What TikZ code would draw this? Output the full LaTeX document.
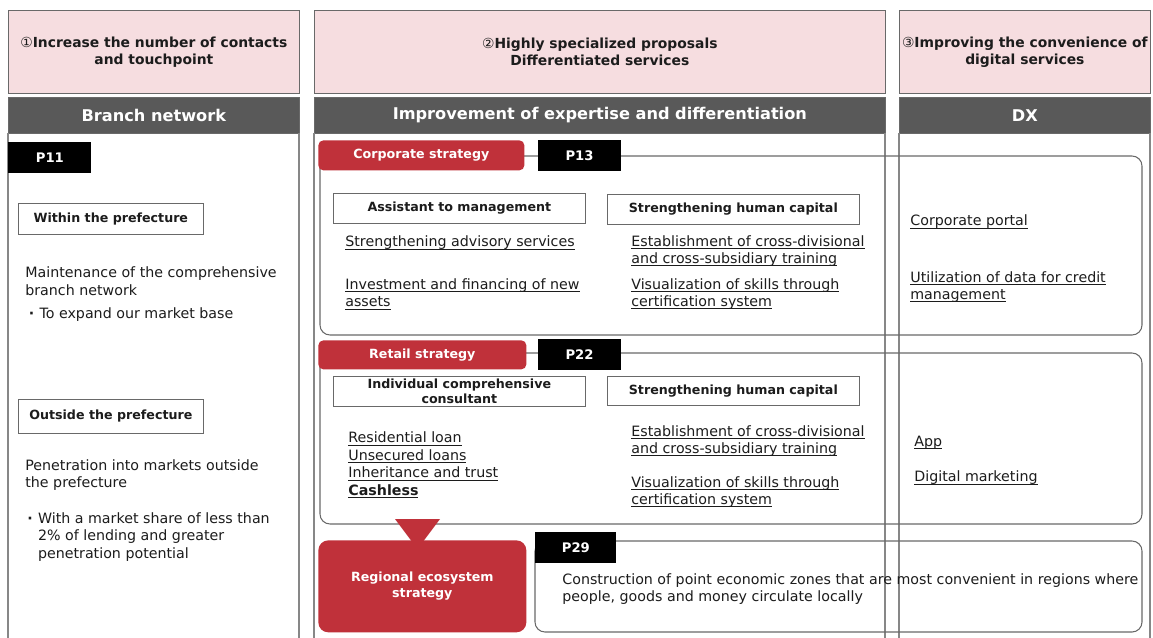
\documentclass[tikz,border=0pt]{standalone}
\usepackage{fontspec}
\setmainfont{DejaVu Sans}
\usepackage{tikz}
\usetikzlibrary{positioning,calc}
\definecolor{pinkfill}{RGB}{246,221,224}
\definecolor{barfill}{RGB}{89,89,89}
\definecolor{tabred}{RGB}{192,49,58}
\definecolor{edge}{RGB}{105,105,105}
\definecolor{ink}{RGB}{28,28,28}
\newcommand{\pxw}{0.02cm}
\newcommand{\ulin}[1]{\setbox0\hbox{#1}\rlap{\rule[-1.4pt]{\wd0}{0.45pt}}\box0}
\tikzset{
    topbox/.style={draw=edge,fill=pinkfill,anchor=north west,inner sep=0pt,align=center,text=ink,
        font=\fontsize{7.9}{9.7}\selectfont\bfseries,minimum height=83*\pxw},
    headbar/.style={draw=edge,fill=barfill,anchor=north west,inner sep=0pt,text=white,
        font=\fontsize{9.2}{10}\selectfont\bfseries,minimum height=36*\pxw},
    colline/.style={draw=edge!80,line width=0.6pt},
    pagebox/.style={fill=black,inner sep=0pt,text=white,minimum width=83*\pxw,minimum height=31*\pxw,
        font=\fontsize{7.5}{8}\selectfont\bfseries},
    tab/.style={fill=tabred,rounded corners=1mm,inner sep=0pt,align=center,text=white,
        font=\fontsize{7.2}{9}\selectfont\bfseries},
    frame/.style={draw=edge,line width=0.6pt,rounded corners=2mm},
    labelbox/.style={draw=edge,fill=white,anchor=north west,inner sep=0pt,align=center,text=ink,
        font=\fontsize{7.2}{9}\selectfont\bfseries},
    txt/.style={anchor=west,inner sep=0pt,align=left,text=ink,font=\fontsize{8.1}{10}\selectfont},
}
\begin{document}
\begin{tikzpicture}[x=0.02cm,y=-0.02cm]
\useasboundingbox (0,0) rectangle (1153,637);
\fill[white] (0,0) rectangle (1153,637);

\node[topbox,minimum width=291*\pxw] (goal1) at (8,10) {{\mdseries ①}Increase the number of contacts\\and touchpoint};
\node[topbox,minimum width=571*\pxw] (goal2) at (314,10) {{\mdseries ②}Highly specialized proposals\\Differentiated services};
\node[topbox,minimum width=251*\pxw] (goal3) at (899,10) {{\mdseries ③}Improving the convenience of\\digital services};

\node[headbar,minimum width=291*\pxw] (branch) at (8,97) {Branch network};
\node[headbar,minimum width=571*\pxw] (expert) at (314,97) {Improvement of expertise and differentiation};
\node[headbar,minimum width=251*\pxw] (dx) at (899,97) {DX};

\foreach \xl/\xr in {8/299,314/885,899/1150}{
    \draw[colline] (\xl,133) -- (\xl,640);
    \draw[colline] (\xr,133) -- (\xr,640);
}

% branch network column
\node[pagebox,anchor=north west] (p11) at (8,142) {P11};
\node[labelbox,minimum width=185*\pxw,minimum height=31*\pxw] (within) at (18,203) {Within the prefecture};
\node[txt] (withinA) at (25,281) {Maintenance of the comprehensive\\branch network};
\node[txt] (withinB) at (25,315) {\hspace{2pt}{\bfseries·}\hspace{3pt}To expand our market base};
\node[labelbox,minimum width=185*\pxw,minimum height=34*\pxw] (outside) at (18,399) {Outside the prefecture};
\node[txt] (outsideA) at (25,475) {Penetration into markets outside\\the prefecture};
\node[txt] (outsideB) at (27,537) {{\bfseries·}\hspace{3pt}With a market share of less than\\\hphantom{{\bfseries·}\hspace{3pt}}2\% of lending and greater\\\hphantom{{\bfseries·}\hspace{3pt}}penetration potential};

% corporate strategy
\draw[frame] (320,156) rectangle (1142,335);
\node[tab,anchor=north west,minimum width=206*\pxw,minimum height=30*\pxw] (corp) at (318,140) {Corporate strategy};
\node[pagebox,right=0.26cm of corp] (p13) {P13};
\node[labelbox,minimum width=252*\pxw,minimum height=30*\pxw] (assist) at (333,193) {Assistant to management};
\node[labelbox,minimum width=252*\pxw,minimum height=30*\pxw] (capitalA) at (607,194) {Strengthening human capital};
\node[txt] (advisory) at (345,243) {\ulin{Strengthening advisory services}};
\node[txt] (invest) at (345,294) {\ulin{Investment and financing of new}\\\ulin{assets}};
\node[txt] (crossA) at (631,251) {\ulin{Establishment of cross-divisional}\\\ulin{and cross-subsidiary training}};
\node[txt] (skillsA) at (631,294) {\ulin{Visualization of skills through}\\\ulin{certification system}};
\node[txt] (portal) at (910,222) {\ulin{Corporate portal}};
\node[txt] (credit) at (910,287) {\ulin{Utilization of data for credit}\\\ulin{management}};

% retail strategy
\draw[frame] (320,353) rectangle (1142,524);
\node[tab,anchor=north west,minimum width=208*\pxw,minimum height=29*\pxw] (retail) at (318,340) {Retail strategy};
\node[pagebox,right=0.22cm of retail] (p22) {P22};
\node[labelbox,minimum width=252*\pxw,minimum height=30*\pxw] (consult) at (333,376) {Individual comprehensive\\consultant};
\node[labelbox,minimum width=252*\pxw,minimum height=29*\pxw] (capitalB) at (607,376) {Strengthening human capital};
\node[txt] (loans) at (348,465) {\ulin{Residential loan}\\\ulin{Unsecured loans}\\\ulin{Inheritance and trust}\\\ulin{\bfseries Cashless}};
\node[txt] (crossB) at (631,441) {\ulin{Establishment of cross-divisional}\\\ulin{and cross-subsidiary training}};
\node[txt] (skillsB) at (631,492) {\ulin{Visualization of skills through}\\\ulin{certification system}};
\node[txt] (app) at (914,443) {\ulin{App}};
\node[txt] (marketing) at (914,478) {\ulin{Digital marketing}};

% regional ecosystem
\fill[tabred] (395,519) -- (440,519) -- (417.5,549) -- cycle;
\node[tab,rounded corners=2mm,anchor=north west,minimum width=208*\pxw,minimum height=92*\pxw] (ecosys) at (318,540) {Regional ecosystem\\strategy};
\draw[frame] (535,541) rectangle (1142,632);
\node[pagebox,anchor=north west,minimum width=81*\pxw] (p29) at (535,532) {P29};
\node[txt] (zones) at (562,589) {Construction of point economic zones that are most convenient in regions where\\people, goods and money circulate locally};
\end{tikzpicture}
\end{document}
